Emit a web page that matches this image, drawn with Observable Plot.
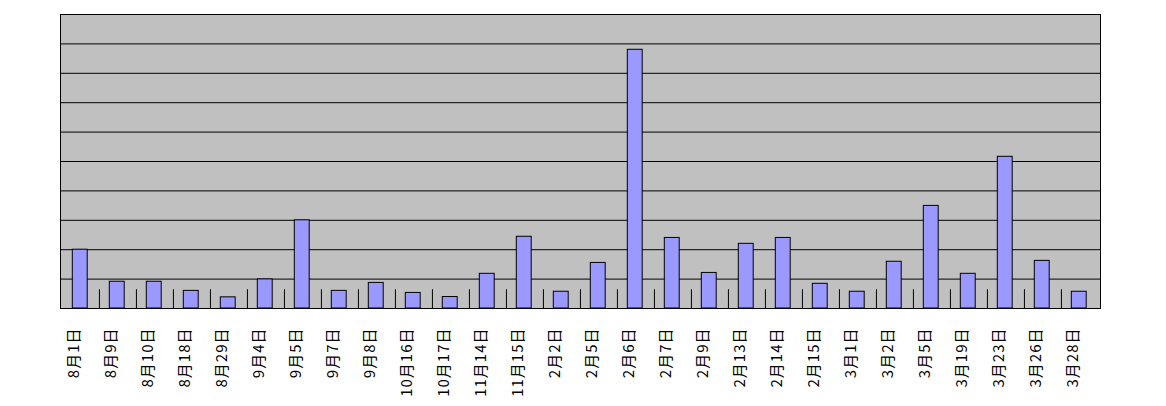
<!DOCTYPE html>
<html>
<head>
<meta charset="utf-8">
<script src="https://cdn.jsdelivr.net/npm/d3@7"></script>
<script src="https://cdn.jsdelivr.net/npm/@observablehq/plot@0.6"></script>
<style>
  html, body { margin: 0; padding: 0; background: #ffffff; }
  #chart svg { display: block; }
</style>
</head>
<body>
<div id="chart"></div>
<script>
const categories = ["8月1日","8月9日","8月10日","8月18日","8月29日","9月4日","9月5日","9月7日","9月8日","10月16日","10月17日","11月14日","11月15日","2月2日","2月5日","2月6日","2月7日","2月9日","2月13日","2月14日","2月15日","3月1日","3月2日","3月5日","3月19日","3月23日","3月26日","3月28日"];
const values = [20, 9.1, 9.1, 6, 3.8, 9.9, 30, 6, 8.7, 5.3, 3.9, 11.8, 24.4, 5.7, 15.5, 88, 24, 12.1, 22, 24, 8.4, 5.7, 15.9, 34.9, 11.8, 51.6, 16.2, 5.7];
const gridTicks = [10, 20, 30, 40, 50, 60, 70, 80, 90];
const yDomain = [0, 100];

const data = categories.map((c, i) => ({category: c, value: values[i]}));

const W = 1166, H = 406;
const mL = 60, mR = 66, mT = 14, mB = 98;
const step = (W - mL - mR) / categories.length;

const chart = Plot.plot({
  width: W,
  height: H,
  marginLeft: mL,
  marginRight: mR,
  marginTop: mT,
  marginBottom: mB,
  style: {background: "#ffffff", fontFamily: "'Noto Sans CJK JP', sans-serif"},
  x: {domain: categories, padding: 0, axis: null},
  y: {domain: yDomain, axis: null},
  marks: [
    Plot.frame({fill: "#c0c0c0", stroke: "none"}),
    Plot.ruleY(gridTicks, {stroke: "#000000", strokeWidth: 1, strokeOpacity: 1}),
    Plot.ruleX(categories.slice(1), {x: d => d, y1: 0, y2: 6.4, dx: -step / 2, stroke: "#000000", strokeWidth: 1}),
    Plot.barY(data, {x: "category", y: "value", fill: "#9999ff", stroke: "#000000", strokeWidth: 1, insetLeft: 10.3, insetRight: 11.8}),
    Plot.frame({fill: "none", stroke: "#000000", strokeWidth: 1}),
    Plot.text(categories, {x: d => d, text: d => d, frameAnchor: "bottom", dy: 19, dx: -7, rotate: -90, textAnchor: "end", lineAnchor: "middle", fontSize: 15, fill: "#000000"})
  ]
});
chart.querySelectorAll("text").forEach(t => t.style.letterSpacing = "1px");
document.getElementById("chart").append(chart);
</script>
</body>
</html>
